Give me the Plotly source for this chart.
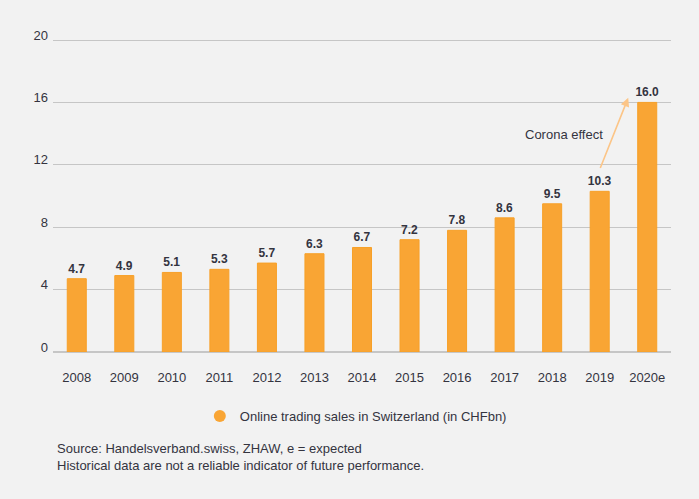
import plotly.graph_objects as go

years = ["2008", "2009", "2010", "2011", "2012", "2013", "2014",
         "2015", "2016", "2017", "2018", "2019", "2020e"]
sales = [4.7, 4.9, 5.1, 5.3, 5.7, 6.3, 6.7, 7.2, 7.8, 8.6, 9.5, 10.3, 16.0]
y_ticks = [0, 4, 8, 12, 16, 20]
series_name = "Online trading sales in Switzerland (in CHFbn)"
source_lines = ["Source: Handelsverband.swiss, ZHAW, e = expected",
                "Historical data are not a reliable indicator of future performance."]

BG = "#F2F2F2"
ORANGE = "#F9A534"
TXT = "#34343f"
FONT = "Liberation Sans"

fig = go.Figure()
fig.add_trace(go.Bar(
    x=years, y=sales,
    marker=dict(color=ORANGE, line=dict(color="#F7A028", width=1)),
    texttemplate="<b>%{y:.1f}</b>", textposition="outside", constraintext="none",
    textfont=dict(family=FONT, size=12, color=TXT),
    cliponaxis=False, showlegend=False, hoverinfo="skip",
))
# legend entry with circle marker
fig.add_trace(go.Scatter(
    x=[None], y=[None], mode="markers", name=series_name,
    marker=dict(color=ORANGE, size=10, symbol="circle"),
))

fig.add_annotation(
    x=11.6, y=16.3, ax=11.0, ay=11.7, xref="x", yref="y", axref="x", ayref="y",
    showarrow=True, arrowhead=2, arrowsize=1.1, arrowwidth=1.6,
    arrowcolor="#FCC587", text="",
)
fig.add_annotation(
    x=10.24, y=13.97, xref="x", yref="y", text="Corona effect", showarrow=False,
    font=dict(family=FONT, size=13, color=TXT),
)
fig.add_annotation(
    x=0.004, y=-0.278, xref="paper", yref="paper", xanchor="left", yanchor="top",
    text="<br>".join(source_lines), align="left", showarrow=False,
    font=dict(family=FONT, size=13, color=TXT),
)

fig.update_layout(
    width=699, height=499,
    margin=dict(l=53, r=28, t=38, b=147, autoexpand=False),
    paper_bgcolor=BG, plot_bgcolor=BG,
    font=dict(family=FONT, color=TXT, size=12),
    bargap=0.6,
    legend=dict(orientation="h", x=0.49, xanchor="center",
                y=(499 - 416) / 499, yanchor="middle", yref="container", xref="paper",
                font=dict(family=FONT, size=13, color=TXT), bgcolor="rgba(0,0,0,0)",
                itemsizing="constant", itemwidth=30),
    xaxis=dict(type="category", showgrid=False, showline=False, zeroline=False,
               ticks="", ticklabelstandoff=16, automargin=False,
               tickfont=dict(family=FONT, size=13, color=TXT)),
    yaxis=dict(range=[0, 20.13], tickvals=y_ticks, showgrid=True, gridcolor="#C6C6C6",
               gridwidth=1, zeroline=True, zerolinecolor="#C6C6C6", zerolinewidth=1.5,
               showline=False, ticks="",
               ticklabelstandoff=4, ticklabelshift=-5, automargin=False,
               tickfont=dict(family=FONT, size=13, color=TXT)),
)

fig.write_html(
    "out.html",
    config={"displayModeBar": False},
    post_script="document.body.style.margin='0';document.body.style.overflow='hidden';",
)
